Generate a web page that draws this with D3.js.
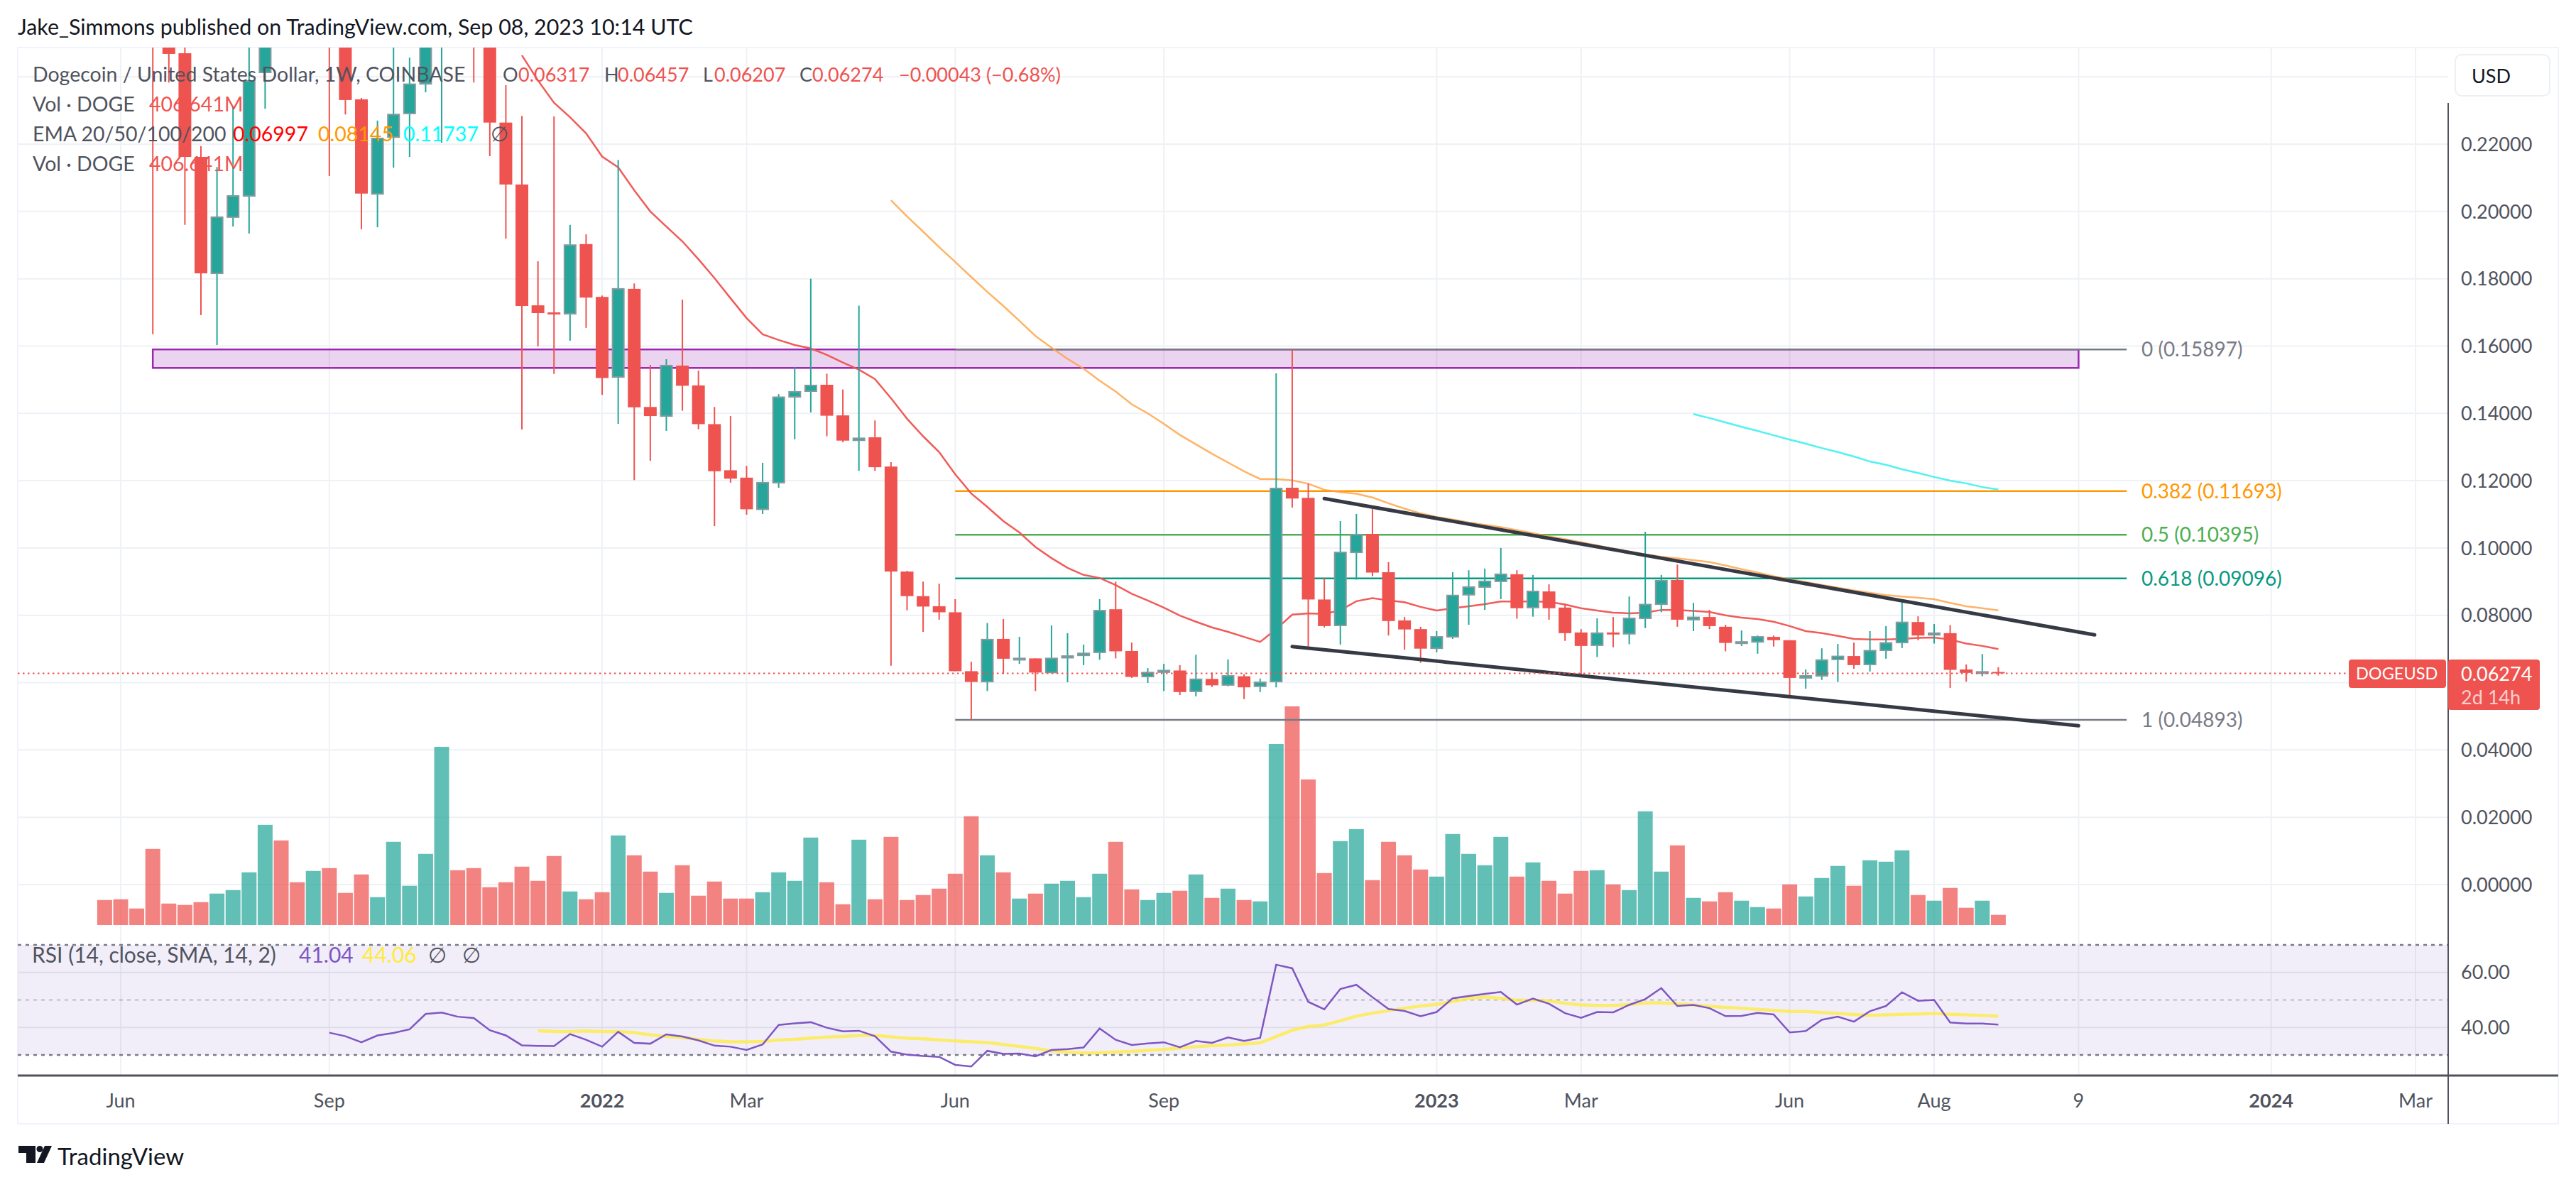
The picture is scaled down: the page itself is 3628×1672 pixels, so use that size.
<!DOCTYPE html>
<html>
<head>
<meta charset="utf-8">
<script src="https://cdn.jsdelivr.net/npm/d3@7"></script>
<style>
  html, body { margin: 0; padding: 0; background: #fff; }
  svg { display: block; }
  text { font-family: Lato, "Noto Sans", sans-serif; }
</style>
</head>
<body>
<div id="chart"></div>
<script>
// Weekly bars, first bar is the week of 31 May 2021
const firstWeek = Date.UTC(2021, 4, 31);
const opens = [.37,.38,.33,.31,.27,.247,.2162,.1816,.1983,.2046,.2413,.32,.28,.265,.30,.26,.2333,.2052,.2221,.2291,.2379,.26,.31,.28,.27,.2264,.2080,.1721,.17,.1696,.1903,.1746,.1508,.177,.1419,.1392,.1542,.1483,.1368,.1231,.1209,.1115,.1194,.1449,.1466,.1485,.1394,.132,.1329,.1242,.093,.0857,.0827,.0809,.0634,.0603,.073,.0671,.0672,.063,.0674,.0681,.069,.0818,.0694,.0618,.0631,.0636,.0574,.0611,.0593,.0619,.0589,.0603,.1179,.1149,.0847,.077,.0987,.1042,.0928,.0785,.0759,.0702,.0736,.0861,.0884,.0901,.0922,.0823,.0871,.0823,.0749,.0711,.0749,.0745,.0791,.0833,.0905,.0787,.0795,.0766,.0718,.0721,.0736,.0726,.0614,.062,.0669,.0679,.0654,.0696,.0719,.078,.0742,.0747,.0639,.0629,.06317];
const highs = [.46,.44,.36,.33,.30,.25,.2194,.2132,.2312,.27,.36,.36,.30,.31,.35,.29,.2337,.2270,.26,.2457,.27,.34,.33,.30,.29,.2375,.2284,.1852,.2282,.1960,.1932,.1750,.2153,.1786,.1544,.1561,.1738,.1527,.1419,.1392,.1244,.1253,.1457,.1538,.18,.1518,.1471,.172,.1379,.1255,.0932,.09,.0894,.0848,.0662,.0777,.0789,.0736,.0672,.077,.0747,.0713,.0848,.09,.0719,.0643,.0656,.0652,.0683,.063,.0669,.0625,.0612,.1519,.15897,.1191,.0912,.108,.1101,.1116,.0958,.0795,.0766,.0753,.0928,.0934,.0939,.1,.0934,.092,.0892,.0835,.0759,.0791,.0795,.0856,.1048,.092,.0951,.0837,.0816,.0772,.0755,.074,.074,.0726,.0639,.0702,.0715,.0719,.0753,.0768,.0846,.0797,.0774,.0771,.0654,.0685,.06457];
const lows = [.30,.31,.29,.1635,.2383,.196,.1692,.1603,.1955,.1934,.2305,.26,.26,.255,.2105,.2288,.1947,.1953,.2130,.2162,.2354,.2204,.26,.2383,.2164,.1919,.1352,.1599,.1517,.1616,.1654,.1455,.1369,.1202,.1259,.1348,.1408,.1353,.1065,.1194,.1099,.1101,.1179,.1323,.1403,.1332,.1314,.1229,.1229,.0650,.0815,.0751,.0787,.0634,.0491,.0575,.0626,.0656,.0575,.063,.0601,.0652,.0668,.0672,.0614,.0599,.0575,.0563,.0559,.0587,.0589,.0551,.0572,.0586,.112,.0707,.0764,.0713,.0906,.0916,.074,.0698,.0659,.069,.073,.0772,.0816,.0848,.079,.0796,.0787,.0724,.0624,.0676,.0705,.0714,.0762,.0809,.0766,.0753,.0759,.0693,.0709,.0686,.0707,.056,.0582,.0608,.0602,.0641,.0633,.0671,.0703,.0726,.0716,.0584,.0603,.0619,.06207];
const closes = [.33,.32,.30,.27,.2468,.2162,.1816,.1983,.2046,.2388,.32,.28,.265,.30,.26,.2331,.2053,.2217,.2288,.2378,.26,.31,.28,.27,.2264,.2080,.1719,.1698,.1694,.19,.1744,.1505,.1770,.1418,.1392,.1542,.1482,.1368,.1228,.1206,.1115,.1194,.1448,.1464,.1483,.1393,.1319,.1326,.124,.093,.0857,.0826,.0809,.0634,.0602,.0728,.0671,.0672,.063,.0672,.0679,.0687,.0814,.0693,.0617,.063,.0636,.0572,.061,.0592,.062,.0586,.0601,.1177,.1147,.0847,.0768,.0987,.104,.0927,.0783,.0758,.0701,.0736,.0859,.0884,.0901,.0922,.0821,.0871,.0821,.0747,.0709,.0747,.0743,.0791,.0832,.0903,.0787,.0794,.0768,.0718,.0721,.0736,.0726,.0614,.062,.0667,.0678,.0652,.0695,.0718,.0779,.074,.0747,.0638,.0629,.0632,.06274];
// Volume in millions, one per bar
const volumes = [1002,1031,662,3045,860,804,917,1258,1399,2109,4009,3385,1712,2165,2279,1286,2024,1116,3329,1570,2846,7130,2194,2279,1513,1712,2336,1768,2761,1343,1031,1314,3584,2790,2137,1286,2392,1173,1740,1059,1059,1314,2109,1768,3499,1712,832,3414,1031,3527,1002,1201,1456,2052,4350,2790,2109,1059,1258,1655,1768,1116,2052,3329,1428,1002,1286,1371,2024,1087,1456,1002,946,7243,8747,5825,2080,3357,3839,1797,3329,2790,2222,1938,3641,2846,2392,3527,1938,2506,1768,1258,2165,2194,1626,1399,4548,2137,3187,1087,946,1314,974,719,662,1626,1144,1882,2364,1570,2591,2534,2988,1201,974,1485,690,974,407];

// EMAs, each lists its values up to the last bar; offset is the bar of the first value
const ema20Offset = 26;
const ema20 = [.2464,.2389,.2323,.228,.2232,.2163,.2131,.2063,.2,.1955,.1911,.1858,.1802,.1742,.1683,.1635,.1618,.1603,.1593,.1574,.1551,.153,.1502,.1445,.1384,.1332,.1285,.1219,.1162,.1122,.108,.1046,.1003,.097,.0941,.092,.0911,.089,.0864,.0844,.0823,.0799,.0781,.0764,.0751,.0736,.0721,.0759,.0802,.0806,.0804,.0815,.0842,.0851,.0844,.0839,.0825,.0814,.0821,.0827,.0833,.0841,.0841,.0841,.084,.0832,.0821,.0814,.0808,.0806,.0808,.0816,.0816,.0813,.081,.08,.0793,.0789,.0781,.0768,.0753,.0747,.0739,.073,.0728,.0728,.073,.0733,.0734,.0728,.0716,.0709,.06997];
const ema50Offset = 49;
const ema50 = [.2033,.1985,.194,.1894,.185,.1805,.1761,.1719,.1675,.163,.1595,.1562,.1533,.1497,.1465,.1427,.14,.1369,.1336,.1308,.128,.1254,.1228,.1205,.1205,.1201,.1191,.1173,.1166,.1161,.115,.1133,.1117,.1103,.1092,.1085,.1076,.1069,.1062,.1053,.1044,.1034,.1026,.1017,.1008,.0998,.099,.0981,.0974,.0969,.0964,.0958,.0948,.0937,.0927,.0916,.0907,.0899,.089,.0882,.0874,.0867,.086,.0856,.0852,.0848,.0837,.0827,.0821,.08145];
const ema100Offset = 99;
const ema100 = [.1398,.1386,.1373,.136,.1348,.1335,.1322,.131,.1297,.1285,.1272,.1257,.1247,.1234,.1223,.1211,.12,.1192,.1181,.11737];

// RSI and its moving average
const rsiOffset = 14;
const rsi = [38.1,36.8,34.6,37.1,38,39.3,44.9,45.4,43.9,43.4,39,37.1,33.5,33.3,33.2,37.6,35.5,33,38.4,34.4,34.1,37.5,36.7,35.3,33.4,33,31.8,33.8,40.9,41.5,41.9,39.9,38.6,38.8,36.8,31.2,30.1,29.6,29.3,26.4,25.8,31.5,30.4,30.5,29.5,31.8,32.1,32.7,39.6,35.5,33.6,34.2,34.6,32.8,35.1,34.4,36.4,35.1,36.2,62.8,61.5,49.3,46.6,54,55.5,51,46.7,46,44.1,45.6,50.6,51.4,52.2,52.9,48.3,50.5,48.6,45.2,43.5,45.6,45.5,48.2,50.3,54.3,47.8,48.2,47,44.1,44.2,45.3,44.7,38.2,38.7,42.8,43.9,42.1,45.9,47.8,52.8,49.7,50,41.8,41.4,41.4,41.04];
const rsiMaOffset = 27;
const rsiMa = [38.8,38.5,38.5,38.7,38.5,38.5,38.1,37.3,36.8,36.3,35.6,35.1,34.8,34.8,34.9,35.4,35.7,36.1,36.5,36.7,37.1,37.1,36.6,36.1,35.9,35.5,35.1,34.8,34.5,33.8,33.1,32.4,31.5,31.1,30.7,30.8,31.1,31.3,31.7,32,32.5,33,33.4,33.6,34,34.4,36.7,39,40.3,40.9,42.4,44.1,45.2,46.1,47,47.8,48.4,49.4,50.5,51.1,50.6,49.9,49.9,49.7,48.8,48.2,48,48,48.3,48.9,48.9,48.6,48.2,47.7,47.3,47,46.6,46.2,45.8,45.8,45.4,45.1,44.7,44.4,44.6,44.8,44.9,45.1,44.8,44.6,44.4,44.06];

// Axis ticks; the 0.06 and 0.24 grid lines carry no label (price tag and USD button sit there)
const priceTicks = [0, .02, .04, .08, .10, .12, .14, .16, .18, .20, .22];
const priceGridExtra = [.06, .24];
const rsiTicks = [60, 40];
const rsiDotted = [70, 50, 30];
const timeTicks = ["2021-06-07","2021-09-06","2022-01-03","2022-03-07","2022-06-06","2022-09-05","2023-01-02","2023-03-06","2023-06-05","2023-08-07","2023-10-09","2024-01-01","2024-03-04"];
const timeLabels = ["Jun","Sep","2022","Mar","Jun","Sep","2023","Mar","Jun","Aug","9","2024","Mar"];
const yearLabels = ["2022", "2023", "2024"];

// Fibonacci levels and drawings, given in chart values
const fibLabels = ["0", "0.382", "0.5", "0.618", "1"];
const fibPrices = [.15897, .11693, .10395, .09096, .04893];
const fibColors = ["#787b86", "#ff9800", "#4caf50", "#089981", "#787b86"];
const fibWeeks = ["2022-06-06", "2023-10-30"];
const zoneWeeks = ["2021-06-21", "2023-10-09"];
const zonePrices = [.159, .1535];
const upperTrendWeeks = ["2022-11-14", "2023-10-16"];
const upperTrendPrices = [.1147, .0742];
const lowerTrendWeeks = ["2022-10-31", "2023-10-09"];
const lowerTrendPrices = [.0707, .0472];
const lastPrice = 0.06274;

const UP = "#26a69a";
const DOWN = "#ef5350";
const GRID = "#eef1f5";
const TEXT = "#50535e";
const FONT = 27;
const LEGEND_FONT = 28.5;

const chartWidth = 3628;
const chartHeight = 1672;
const paneLeft = 25, paneRight = 3603, paneTop = 67, paneBottom = 1583, axisX = 3448, axisY = 1515;

const svg = d3.select("#chart").append("svg")
  .attr("width", chartWidth)
  .attr("height", chartHeight)
  .style("background-color", "#fff");

const utc = (s) => new Date(s + "T00:00:00Z");
const barDate = (k) => new Date(firstWeek + k * 7 * 864e5);

// Scales
const x = d3.scaleUtc().domain([utc("2021-06-07"), utc("2023-08-07")]).range([170, 2724]);
const y = d3.scaleLinear().domain([0, .22]).range([1246, 203]);
const yVol = d3.scaleLinear().domain([0, 8747]).range([1303, 995]);
const yRsi = d3.scaleLinear().domain([30, 70]).range([1486, 1331]);

const clip = svg.append("defs").append("clipPath").attr("id", "pane");
clip.append("rect").attr("x", paneLeft).attr("y", paneTop).attr("width", axisX - paneLeft).attr("height", axisY - paneTop);

// Outer frame
svg.append("rect").attr("x", paneLeft).attr("y", paneTop).attr("width", paneRight - paneLeft).attr("height", paneBottom - paneTop)
  .attr("fill", "none").attr("stroke", "#f0f3fa").attr("stroke-width", 2);

const chart = svg.append("g").attr("clip-path", "url(#pane)");

// Grid
chart.append("g").selectAll("line")
  .data(timeTicks)
  .enter().append("line")
  .attr("x1", (d) => x(utc(d))).attr("x2", (d) => x(utc(d)))
  .attr("y1", paneTop).attr("y2", axisY)
  .attr("stroke", GRID).attr("stroke-width", 2);
chart.append("g").selectAll("line")
  .data(priceTicks.concat(priceGridExtra))
  .enter().append("line")
  .attr("x1", paneLeft).attr("x2", axisX)
  .attr("y1", (d) => y(d)).attr("y2", (d) => y(d))
  .attr("stroke", GRID).attr("stroke-width", 2);

// Volume bars
const isUp = (k) => closes[k] >= opens[k];
chart.append("g").selectAll("rect")
  .data(volumes)
  .enter().append("rect")
  .attr("x", (d, k) => x(barDate(k)) - 10.5)
  .attr("width", 21)
  .attr("y", (d) => yVol(d))
  .attr("height", (d) => yVol(0) - yVol(d))
  .attr("fill", (d, k) => isUp(k) ? UP : DOWN)
  .attr("opacity", 0.72);

// Purple zone
chart.append("rect")
  .attr("x", x(utc(zoneWeeks[0])))
  .attr("width", x(utc(zoneWeeks[1])) - x(utc(zoneWeeks[0])))
  .attr("y", y(zonePrices[0]))
  .attr("height", y(zonePrices[1]) - y(zonePrices[0]))
  .attr("fill", "#9c27b0").attr("fill-opacity", 0.2)
  .attr("stroke", "#9c27b0").attr("stroke-width", 2.5);

// Fib retracement
chart.append("g").selectAll("line")
  .data(fibPrices)
  .enter().append("line")
  .attr("x1", x(utc(fibWeeks[0]))).attr("x2", x(utc(fibWeeks[1])))
  .attr("y1", (d) => y(d)).attr("y2", (d) => y(d))
  .attr("stroke", (d, i) => fibColors[i]).attr("stroke-width", 2.5);
svg.append("g").selectAll("text")
  .data(fibPrices)
  .enter().append("text")
  .attr("x", 3016)
  .attr("y", (d) => y(d))
  .attr("dy", "0.36em")
  .attr("font-size", 28)
  .attr("fill", (d, i) => fibColors[i])
  .text((d, i) => `${fibLabels[i]} (${d3.format(".5f")(d)})`);

// EMA lines
const drawLine = (parent, values, offset, scale, color, w, op) => parent.append("path")
  .datum(values)
  .attr("fill", "none")
  .attr("stroke", color)
  .attr("stroke-width", w)
  .attr("opacity", op)
  .attr("d", d3.line().x((d, i) => x(barDate(i + offset))).y((d) => scale(d)));
drawLine(chart, ema20, ema20Offset, y, "#ef5350", 2.5, 0.95);
drawLine(chart, ema50, ema50Offset, y, "#ffa040", 2.5, 0.8);
drawLine(chart, ema100, ema100Offset, y, "#33f0f0", 2.5, 0.85);

// Candles
const candles = chart.append("g").selectAll("g")
  .data(opens)
  .enter().append("g");
candles.append("line")
  .attr("x1", (d, k) => x(barDate(k))).attr("x2", (d, k) => x(barDate(k)))
  .attr("y1", (d, k) => y(highs[k])).attr("y2", (d, k) => y(lows[k]))
  .attr("stroke", (d, k) => isUp(k) ? UP : DOWN)
  .attr("stroke-width", 2);
candles.append("rect")
  .attr("x", (d, k) => x(barDate(k)) - (isUp(k) ? 8 : 9))
  .attr("width", (d, k) => isUp(k) ? 16 : 18)
  .attr("y", (d, k) => y(Math.max(d, closes[k])))
  .attr("height", (d, k) => Math.max(2, Math.abs(y(d) - y(closes[k]))))
  .attr("fill", (d, k) => isUp(k) ? UP : DOWN)
  .attr("stroke", (d, k) => isUp(k) ? "#859a9e" : "none")
  .attr("stroke-width", 2);

// Trend lines
const trend = (weeks, prices) => chart.append("line")
  .attr("x1", x(utc(weeks[0]))).attr("y1", y(prices[0]))
  .attr("x2", x(utc(weeks[1]))).attr("y2", y(prices[1]))
  .attr("stroke", "#363a45").attr("stroke-width", 5).attr("stroke-linecap", "round");
trend(upperTrendWeeks, upperTrendPrices);
trend(lowerTrendWeeks, lowerTrendPrices);

// Last price line
chart.append("line")
  .attr("x1", paneLeft).attr("x2", 3308)
  .attr("y1", y(lastPrice)).attr("y2", y(lastPrice))
  .attr("stroke", DOWN).attr("stroke-width", 2).attr("stroke-dasharray", "2.5 4.5");

// RSI pane
chart.append("rect")
  .attr("x", paneLeft).attr("width", axisX - paneLeft)
  .attr("y", yRsi(70)).attr("height", yRsi(30) - yRsi(70))
  .attr("fill", "#7e57c2").attr("opacity", 0.1);
chart.append("g").selectAll("line")
  .data(rsiTicks)
  .enter().append("line")
  .attr("x1", paneLeft).attr("x2", axisX)
  .attr("y1", (d) => yRsi(d)).attr("y2", (d) => yRsi(d))
  .attr("stroke", "#dcdde8").attr("stroke-width", 2);
chart.append("g").selectAll("line")
  .data(rsiDotted)
  .enter().append("line")
  .attr("x1", paneLeft).attr("x2", axisX)
  .attr("y1", (d) => yRsi(d)).attr("y2", (d) => yRsi(d))
  .attr("stroke", "#787b86").attr("stroke-width", 2.5)
  .attr("stroke-dasharray", "5 6")
  .attr("opacity", (d) => d === 50 ? 0.35 : 1);
drawLine(chart, rsiMa, rsiMaOffset, yRsi, "#ffeb3b", 4.5, 0.75);
drawLine(chart, rsi, rsiOffset, yRsi, "#7e57c2", 2.5, 1);

// Axis lines
svg.append("line").attr("x1", axisX).attr("x2", axisX).attr("y1", 145).attr("y2", paneBottom)
  .attr("stroke", TEXT).attr("stroke-width", 2);
svg.append("line").attr("x1", paneLeft).attr("x2", paneRight).attr("y1", axisY).attr("y2", axisY)
  .attr("stroke", TEXT).attr("stroke-width", 3);

// Tick labels
svg.append("g").selectAll("text")
  .data(priceTicks)
  .enter().append("text")
  .attr("x", 3466).attr("y", (d) => y(d)).attr("dy", "0.36em")
  .attr("font-size", FONT).attr("fill", TEXT)
  .text((d) => d3.format(".5f")(d));
svg.append("g").selectAll("text")
  .data(rsiTicks)
  .enter().append("text")
  .attr("x", 3466).attr("y", (d) => yRsi(d)).attr("dy", "0.36em")
  .attr("font-size", FONT).attr("fill", TEXT)
  .text((d) => d3.format(".2f")(d));
svg.append("g").selectAll("text")
  .data(timeTicks)
  .enter().append("text")
  .attr("x", (d) => x(utc(d))).attr("y", 1550).attr("dy", "0.36em")
  .attr("text-anchor", "middle")
  .attr("font-size", FONT).attr("fill", TEXT)
  .attr("font-weight", (d, i) => yearLabels.includes(timeLabels[i]) ? 700 : 400)
  .text((d, i) => timeLabels[i]);

// Header and legends
const label = (px, py, parts, size = FONT) => {
  parts.forEach(([str, color, dx]) => {
    svg.append("text")
      .attr("x", px + dx).attr("y", py).attr("dy", "0.36em")
      .attr("font-size", size).attr("fill", color)
      .text(str);
  });
};
label(25, 38, [["Jake_Simmons published on TradingView.com, Sep 08, 2023 10:14 UTC", "#131722", 0]], 30.4);
label(46, 105, [["Dogecoin / United States Dollar, 1W, COINBASE", TEXT, 0]], LEGEND_FONT);
label(46, 105, [
  ["O", TEXT, 662], ["0.06317", DOWN, 684],
  ["H", TEXT, 805], ["0.06457", DOWN, 824],
  ["L", TEXT, 944], ["0.06207", DOWN, 960],
  ["C", TEXT, 1080], ["0.06274", DOWN, 1098],
  ["\u22120.00043 (\u22120.68%)", DOWN, 1220]
]);
label(46, 147, [["Vol \u00b7 DOGE", TEXT, 0], ["406.641M", DOWN, 164]], LEGEND_FONT);
label(46, 189, [
  ["EMA 20/50/100/200", TEXT, 0], ["0.06997", "#ff0000", 282],
  ["0.08145", "#ff9800", 402], ["0.11737", "#00ffff", 522], ["\u2205", TEXT, 645]
], LEGEND_FONT);
label(46, 231, [["Vol \u00b7 DOGE", TEXT, 0], ["406.641M", DOWN, 164]], LEGEND_FONT);
label(45, 1345, [
  ["RSI (14, close, SMA, 14, 2)", TEXT, 0], ["41.04", "#7e57c2", 376],
  ["44.06", "#ffeb3b", 465], ["\u2205", TEXT, 558], ["\u2205", TEXT, 606]
], 30);

// USD button
svg.append("rect").attr("x", 3458).attr("y", 77).attr("width", 133).attr("height", 58).attr("rx", 9)
  .attr("fill", "#fff").attr("stroke", "#eceff4").attr("stroke-width", 2);
label(3481, 107, [["USD", "#131722", 0]]);

// Last price tags
svg.append("rect").attr("x", 3308).attr("y", 929).attr("width", 137).attr("height", 40).attr("rx", 4).attr("fill", DOWN);
label(3318, 949, [["DOGEUSD", "#fff", 0]], 23.5);
svg.append("rect").attr("x", 3448).attr("y", 929).attr("width", 129).attr("height", 71).attr("rx", 4).attr("fill", DOWN);
label(3466, 949, [[d3.format(".5f")(lastPrice), "#fff", 0]]);
label(3466, 982, [["2d 14h", "#fbd0cf", 0]]);

// TradingView mark
const logo = svg.append("g").attr("fill", "#131722");
logo.append("path").attr("d", "M26 1614H50V1638H37V1624H26Z");
logo.append("circle").attr("cx", 56).attr("cy", 1618.5).attr("r", 4.5);
logo.append("path").attr("d", "M63 1614H73L62 1638H52Z");
label(81, 1629, [["TradingView", "#131722", 0]], 33);
</script>
</body>
</html>
